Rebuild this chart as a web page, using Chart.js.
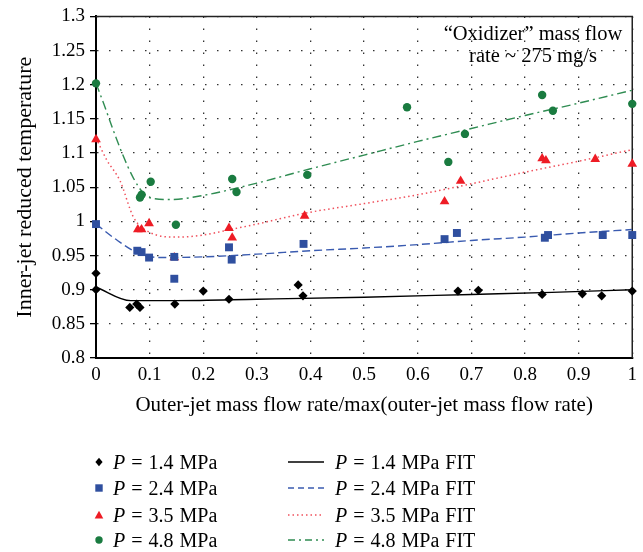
<!DOCTYPE html>
<html><head><meta charset="utf-8">
<script src="https://cdn.jsdelivr.net/npm/chart.js@4"></script>
<style>
html,body{margin:0;padding:0;background:#fff;}
#wrap{position:relative;width:643px;height:552px;font-family:'Liberation Serif',serif;color:#000;overflow:hidden;}
canvas{position:absolute;left:0;top:0;}
.ann{position:absolute;left:403px;width:260px;top:22px;text-align:center;font-size:20.5px;line-height:22px;}
.txt{position:absolute;font-size:20px;line-height:22px;white-space:nowrap;word-spacing:1px;}
.mk{position:absolute;display:block;}
</style></head><body>
<div id="wrap"><canvas id="c" width="643" height="552"></canvas>
<div class="ann">“Oxidizer” mass flow<br>rate ~ 275 mg/s</div>
<div id="legend"></div>
</div>
<script>
// ---- tick labels ----
const xTickVals = [0, 0.1, 0.2, 0.3, 0.4, 0.5, 0.6, 0.7, 0.8, 0.9, 1];
const xTickLabels = ['0', '0.1', '0.2', '0.3', '0.4', '0.5', '0.6', '0.7', '0.8', '0.9', '1'];
const yTickVals = [0.8, 0.85, 0.9, 0.95, 1, 1.05, 1.1, 1.15, 1.2, 1.25, 1.3];
const yTickLabels = ['0.8', '0.85', '0.9', '0.95', '1', '1.05', '1.1', '1.15', '1.2', '1.25', '1.3'];

// ---- measured points ----
const p14X = [0, 0, 0.063, 0.076, 0.082, 0.147, 0.2, 0.248, 0.377, 0.386, 0.675, 0.713, 0.832, 0.907, 0.943, 1.0];
const p14Y = [0.924, 0.900, 0.874, 0.879, 0.874, 0.879, 0.898, 0.886, 0.907, 0.891, 0.898, 0.899, 0.893, 0.894, 0.891, 0.898];

const p24X = [0, 0.077, 0.085, 0.099, 0.146, 0.146, 0.248, 0.253, 0.387, 0.650, 0.673, 0.837, 0.843, 0.945, 1.0];
const p24Y = [0.996, 0.957, 0.955, 0.947, 0.948, 0.916, 0.962, 0.944, 0.967, 0.974, 0.983, 0.976, 0.980, 0.980, 0.980];

const p35X = [0, 0.078, 0.085, 0.099, 0.146, 0.248, 0.254, 0.389, 0.650, 0.680, 0.832, 0.839, 0.931, 1.0];
const p35Y = [1.120, 0.988, 0.988, 0.997, 0.947, 0.990, 0.976, 1.008, 1.029, 1.059, 1.092, 1.089, 1.091, 1.084];

const p48X = [0, 0.082, 0.085, 0.102, 0.149, 0.254, 0.262, 0.394, 0.580, 0.657, 0.688, 0.832, 0.852, 1.0];
const p48Y = [1.202, 1.035, 1.039, 1.058, 0.995, 1.062, 1.043, 1.068, 1.167, 1.087, 1.128, 1.185, 1.162, 1.172];

// ---- fit curves ----
const f14X = [0, 0.065, 0.15, 0.3, 0.5, 0.7, 0.85, 1];
const f14Y = [0.904, 0.884, 0.884, 0.886, 0.889, 0.893, 0.896, 0.900];

const f24X = [0, 0.04, 0.08, 0.12, 0.2, 0.3, 0.4, 0.5, 0.6, 0.7, 0.8, 0.9, 1];
const f24Y = [0.996, 0.972, 0.953, 0.947, 0.948, 0.952, 0.957, 0.961, 0.966, 0.972, 0.977, 0.983, 0.988];

const f35X = [0, 0.02, 0.045, 0.07, 0.1, 0.15, 0.2, 0.25, 0.3, 0.39, 0.5, 0.6, 0.7, 0.8, 0.9, 1];
const f35Y = [1.122, 1.090, 1.059, 1.006, 0.984, 0.977, 0.980, 0.988, 0.996, 1.012, 1.026, 1.039, 1.055, 1.072, 1.088, 1.105];

const f48X = [0, 0.015, 0.03, 0.048, 0.07, 0.09, 0.11, 0.14, 0.2, 0.3, 0.4, 0.5, 0.6, 0.7, 0.8, 0.9, 1];
const f48Y = [1.202, 1.171, 1.138, 1.101, 1.063, 1.040, 1.033, 1.032, 1.038, 1.056, 1.077, 1.097, 1.117, 1.136, 1.155, 1.173, 1.192];

const seriesNames = ['1.4', '2.4', '3.5', '4.8'];

const pts = (xs, ys) => xs.map((x, i) => ({x: x, y: ys[i]}));

const blk = '#000000', blu = '#2f4f9f', red = '#ee1c25', grn = '#1a7b40';
const bluL = '#3a5bb0', redL = '#f0505c', grnL = '#2f8c52';

const datasets = [
  {label: 'P = 1.4 MPa', data: pts(p14X, p14Y), pointStyle: 'rectRot', pointRadius: 4.6, backgroundColor: blk, borderColor: blk, borderWidth: 0, showLine: false, order: 0, clip: false},
  {label: 'P = 2.4 MPa', data: pts(p24X, p24Y), pointStyle: 'rect', pointRadius: 5.6, backgroundColor: blu, borderColor: blu, borderWidth: 0, showLine: false, order: 0, clip: false},
  {label: 'P = 3.5 MPa', data: pts(p35X, p35Y), pointStyle: 'triangle', pointRadius: 5.6, backgroundColor: red, borderColor: red, borderWidth: 0, showLine: false, order: 0, clip: false},
  {label: 'P = 4.8 MPa', data: pts(p48X, p48Y), pointStyle: 'circle', pointRadius: 4.2, backgroundColor: grn, borderColor: grn, borderWidth: 0, showLine: false, order: 0, clip: false},
  {label: 'P = 1.4 MPa FIT', data: pts(f14X, f14Y), showLine: true, pointRadius: 0, borderColor: blk, borderWidth: 1.4, borderDash: [], tension: 0.3, cubicInterpolationMode: 'monotone', order: 1},
  {label: 'P = 2.4 MPa FIT', data: pts(f24X, f24Y), showLine: true, pointRadius: 0, borderColor: bluL, borderWidth: 1.4, borderDash: [8, 4], tension: 0.3, cubicInterpolationMode: 'monotone', order: 1},
  {label: 'P = 3.5 MPa FIT', data: pts(f35X, f35Y), showLine: true, pointRadius: 0, borderColor: redL, borderWidth: 1.5, borderDash: [1.5, 3], tension: 0.3, cubicInterpolationMode: 'monotone', order: 1},
  {label: 'P = 4.8 MPa FIT', data: pts(f48X, f48Y), showLine: true, pointRadius: 0, borderColor: grnL, borderWidth: 1.4, borderDash: [9, 4, 2, 4], tension: 0.3, cubicInterpolationMode: 'monotone', order: 1}
];

const boxPlugin = {
  id: 'box',
  beforeDatasetsDraw(chart) {
    const a = chart.chartArea, ctx = chart.ctx;
    ctx.save();
    ctx.strokeStyle = '#222';
    ctx.lineWidth = 1.5;
    ctx.beginPath();
    ctx.moveTo(a.left, a.top);
    ctx.lineTo(a.right, a.top);
    ctx.lineTo(a.right, a.bottom);
    ctx.stroke();
    ctx.restore();
  }
};

const FONT = 'Liberation Serif';

new Chart(document.getElementById('c'), {
  type: 'scatter',
  data: {datasets: datasets},
  plugins: [boxPlugin],
  options: {
    responsive: false,
    animation: false,
    layout: {padding: {left: 0, top: 15, right: 9, bottom: 134.4}},
    plugins: {legend: {display: false}, tooltip: {enabled: false}},
    scales: {
      x: {
        type: 'linear', min: 0, max: 1,
        afterBuildTicks: s => { s.ticks = xTickVals.map(v => ({value: v})); },
        afterFit: s => { s.height = 59.6; },
        ticks: {callback: (v, i) => xTickLabels[i], color: '#000', font: {family: FONT, size: 19}, padding: 6, maxRotation: 0, autoSkip: false},
        grid: {color: '#333', lineWidth: 1.3, drawTicks: false},
        border: {display: true, color: '#000', width: 2, dash: [1.5, 10.5]},
        title: {display: true, text: 'Outer-jet mass flow rate/max(outer-jet mass flow rate)', color: '#000', font: {family: FONT, size: 21, lineHeight: 1.2}, padding: {top: 0, bottom: 0}}
      },
      y: {
        type: 'linear', min: 0.8, max: 1.3,
        afterBuildTicks: s => { s.ticks = yTickVals.map(v => ({value: v})); },
        afterFit: s => { s.width = 96; },
        ticks: {callback: (v, i) => yTickLabels[i], color: '#000', font: {family: FONT, size: 19}, padding: 5, autoSkip: false},
        grid: {color: '#333', lineWidth: 1.3, drawTicks: true, tickLength: 6, tickColor: '#000', tickWidth: 1.3, tickBorderDash: []},
        border: {display: true, color: '#000', width: 2, dash: [1.5, 10.5]},
        title: {display: true, text: 'Inner-jet reduced temperature', color: '#000', font: {family: FONT, size: 22, lineHeight: 1.2}, padding: {top: 11.8, bottom: 0}}
      }
    }
  }
});

// ---- HTML legend (two columns) ----
const legendRowsY = [462, 488, 515, 540];
const markerSvgs = [
  '<svg class="mk" width="12" height="12"><polygon points="6,1.8 9.6,6 6,10.2 2.4,6" fill="' + blk + '"/></svg>',
  '<svg class="mk" width="12" height="12"><rect x="2.3" y="2.3" width="7.4" height="7.4" fill="' + blu + '"/></svg>',
  '<svg class="mk" width="12" height="12"><polygon points="6,1.8 10.3,9.6 1.7,9.6" fill="' + red + '"/></svg>',
  '<svg class="mk" width="12" height="12"><circle cx="6" cy="6" r="3.7" fill="' + grn + '"/></svg>'
];
const lineStyles = [
  {c: blk, d: ''}, {c: bluL, d: '6,4'}, {c: redL, d: '1.5,3'}, {c: grnL, d: '7,4,2,4'}
];
let html = '';
seriesNames.forEach((n, i) => {
  const cy = legendRowsY[i];
  html += '<div style="position:absolute;left:93px;top:' + (cy - 6) + 'px">' + markerSvgs[i] + '</div>';
  html += '<div class="txt" style="left:113px;top:' + (cy - 11) + 'px"><i>P</i> = ' + n + ' MPa</div>';
  const ls = lineStyles[i];
  html += '<div style="position:absolute;left:288px;top:' + (cy - 3) + 'px"><svg class="mk" width="36" height="6"><line x1="0" y1="3" x2="36" y2="3" stroke="' + ls.c + '" stroke-width="1.4"' + (ls.d ? ' stroke-dasharray="' + ls.d + '"' : '') + '/></svg></div>';
  html += '<div class="txt" style="left:335px;top:' + (cy - 11) + 'px"><i>P</i> = ' + n + ' MPa FIT</div>';
});
document.getElementById('legend').innerHTML = html;
</script>
</body></html>
